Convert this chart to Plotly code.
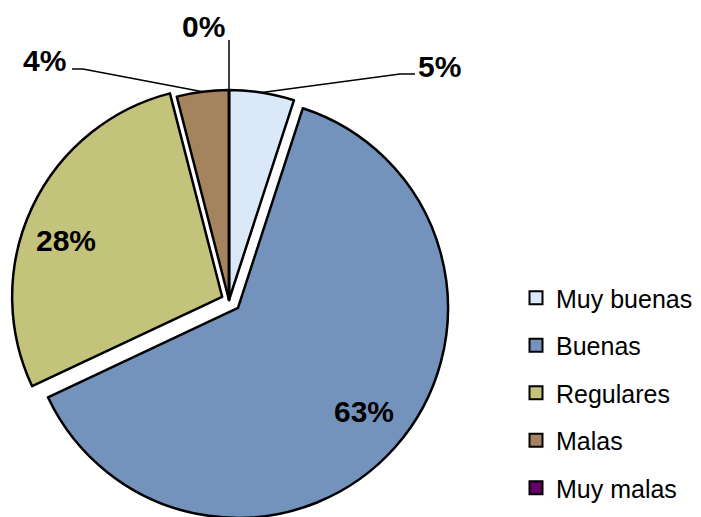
import math
import plotly.graph_objects as go

# Survey answers and their share
labels = ["Muy buenas", "Buenas", "Regulares", "Malas", "Muy malas"]
values = [5, 63, 28, 4, 0]
colors = ["#DAE8F7", "#7393BC", "#C4C37C", "#A4835E", "#660066"]
pulls = [0, 0.057, 0.036, 0, 0]

# Canvas and pie geometry (pixels)
W, H = 701, 540
CX, CY, R = 229, 300, 210
half = R * (1 + max(pulls))

def px(x):
    return x / W

def py(y):
    return 1 - y / H

total = sum(values)
pct = [f"{v / total * 100:.0f}%" for v in values]

fig = go.Figure()
fig.add_trace(go.Pie(
    labels=labels,
    values=values,
    sort=False,
    direction="clockwise",
    rotation=0,
    pull=pulls,
    marker=dict(colors=colors, line=dict(color="black", width=2.5)),
    textinfo="none",
    hoverinfo="skip",
    showlegend=False,
    domain=dict(x=[px(CX - half), px(CX + half)], y=[py(CY + half), py(CY - half)]),
))

# Legend entries, one group each so the rows can be spaced apart
for lab, col in zip(labels, colors):
    fig.add_trace(go.Scatter(
        x=[None], y=[None], mode="markers", name=lab, legendgroup=lab,
        marker=dict(symbol="square", size=13, color=col, line=dict(color="black", width=2)),
    ))

# Percentage labels: (x, y) centre of each text, leader path for outside ones
label_pos = {
    "Muy buenas": (440, 66),
    "Buenas": (364, 411),
    "Regulares": (66, 240),
    "Malas": (44, 60),
    "Muy malas": (203, 26),
}
leader_ends = {
    "Muy buenas": [(400, 74), (415, 74)],
    "Malas": [(83, 69), (72, 69)],
    "Muy malas": [(229, 40)],
}

annotations = []
shapes = []
cum = 0
for lab, v, p, pl in zip(labels, values, pct, pulls):
    mid = (cum + v / 2) / total * 2 * math.pi
    cum += v
    tx, ty = label_pos[lab]
    annotations.append(dict(
        x=px(tx), y=py(ty), xref="paper", yref="paper", text=p, showarrow=False,
        xanchor="center", yanchor="middle",
        font=dict(family="Liberation Sans, Arial", size=30, color="black", weight=700),
    ))
    if lab in leader_ends:
        off = pl * R
        hx = CX + (R + off) * math.sin(mid)
        hy = CY - (R + off) * math.cos(mid)
        pts = [(hx, hy)] + leader_ends[lab]
        path = "M " + " L ".join(f"{px(a)},{py(b)}" for a, b in pts)
        shapes.append(dict(type="path", xref="paper", yref="paper", path=path,
                           line=dict(color="black", width=1.5)))

fig.update_layout(
    width=W, height=H,
    margin=dict(l=0, r=0, t=0, b=0),
    paper_bgcolor="white", plot_bgcolor="white",
    xaxis=dict(visible=False), yaxis=dict(visible=False),
    annotations=annotations,
    shapes=shapes,
    legend=dict(
        x=px(516), y=py(275), xanchor="left", yanchor="top",
        font=dict(family="Liberation Sans, Arial", size=25, color="black"),
        tracegroupgap=12, traceorder="grouped",
        bgcolor="rgba(0,0,0,0)",
    ),
)

fig.write_html(
    "out.html",
    post_script="document.documentElement.style.overflow='hidden';document.body.style.overflow='hidden';document.body.style.margin='0';",
)
